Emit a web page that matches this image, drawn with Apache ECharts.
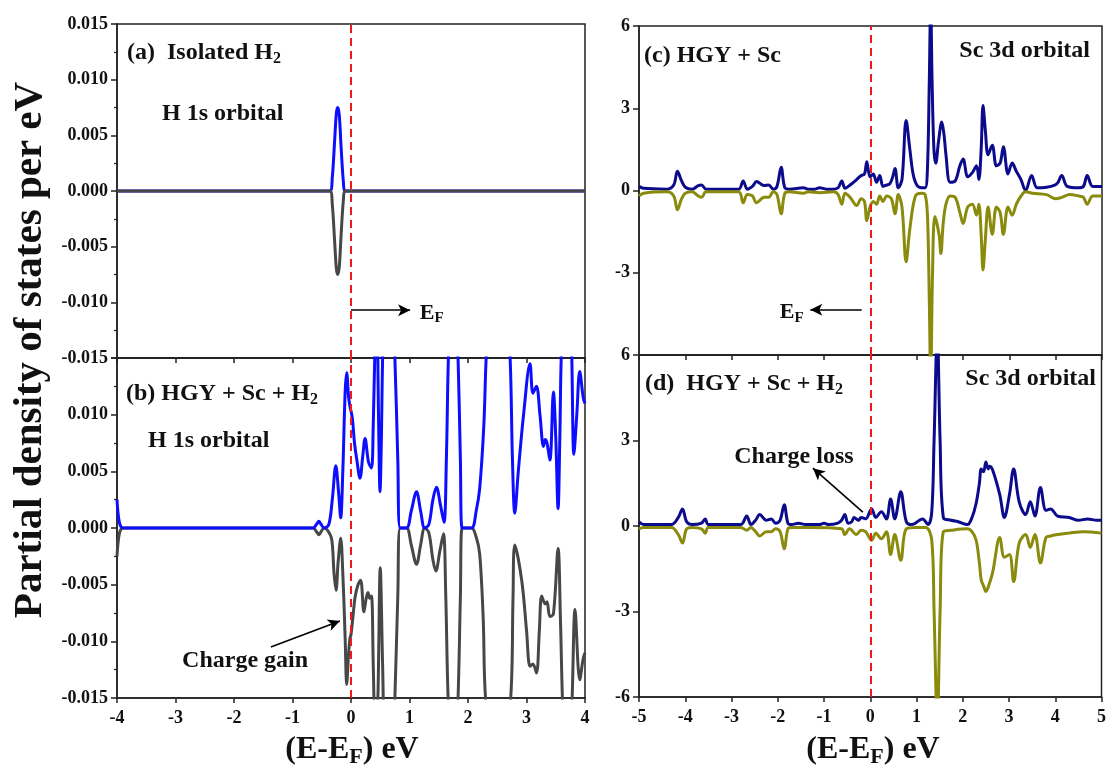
<!DOCTYPE html>
<html><head><meta charset="utf-8">
<script src="https://cdn.jsdelivr.net/npm/echarts@6/dist/echarts.min.js"></script>
<style>html,body{margin:0;padding:0;background:#fff}#c{width:1109px;height:776px}</style>
</head><body><div id="c"></div>
<script>
// ---------------- DATA ----------------
// Panel (a): isolated H2, H 1s orbital
const aX   = [-4, -0.36, -0.32, -0.28, -0.25, -0.227, -0.20, -0.17, -0.13, -0.10, 4];
const aUp  = [0, 0, 0.0012, 0.0045, 0.0070, 0.0075, 0.0068, 0.0040, 0.0008, 0, 0];
const aDn  = [0, 0, -0.0012, -0.0045, -0.0070, -0.0075, -0.0068, -0.0040, -0.0008, 0, 0];

// Panel (b): HGY + Sc + H2, H 1s orbital
const bUpX = [-4,-3.97,-3.93,-3.85,-0.65,-0.58,-0.55,-0.52,-0.46,-0.38,-0.32,-0.26,-0.21,-0.176,-0.14,-0.10,-0.074,-0.04,-0.02,0.02,0.06,0.097,0.154,0.20,0.24,0.30,0.35,0.38,0.41,0.44,0.47,0.496,0.52,0.55,0.60,0.70,0.75,0.80,0.84,0.95,1.03,1.12,1.19,1.26,1.33,1.40,1.46,1.53,1.59,1.63,1.67,1.75,1.80,1.83,1.87,1.90,2.06,2.14,2.20,2.27,2.32,2.45,2.65,2.72,2.76,2.80,2.86,2.95,3.06,3.11,3.17,3.23,3.29,3.32,3.35,3.40,3.46,3.50,3.54,3.57,3.60,3.70,3.77,3.81,3.86,3.91,3.97,4.0];
const bUp  = [0.0025,0.0008,0.0001,0,0,0.0004,0.0006,0.0004,0,0.0003,0.0025,0.0055,0.003,0.0009,0.005,0.012,0.0137,0.0115,0.0108,0.0098,0.0075,0.0061,0.0044,0.0063,0.0079,0.0058,0.0053,0.009,0.016,0.02,0.01,0.0032,0.008,0.018,0.025,0.02,0.015,0.006,0,0,0.0015,0.0032,0.0015,0,0.0003,0.0025,0.0036,0.002,0.0005,0.006,0.016,0.025,0.018,0.015,0.006,0,0,0.0015,0.0035,0.009,0.016,0.025,0.02,0.015,0.006,0.0013,0.005,0.010,0.0145,0.0119,0.0125,0.010,0.0072,0.0078,0.0075,0.006,0.012,0.008,0.0017,0.008,0.016,0.025,0.016,0.0065,0.010,0.0138,0.0115,0.011];
const bDnX = [-4,-3.97,-3.93,-3.85,-0.65,-0.58,-0.55,-0.52,-0.46,-0.40,-0.33,-0.29,-0.256,-0.22,-0.176,-0.14,-0.10,-0.074,-0.04,-0.017,0.0,0.03,0.07,0.12,0.165,0.22,0.26,0.29,0.32,0.35,0.38,0.42,0.46,0.50,0.54,0.58,0.68,0.75,0.80,0.84,0.95,1.03,1.12,1.19,1.26,1.33,1.40,1.45,1.52,1.58,1.62,1.66,1.75,1.83,1.87,1.90,2.06,2.14,2.20,2.26,2.30,2.50,2.73,2.77,2.80,2.92,3.00,3.06,3.11,3.17,3.22,3.26,3.32,3.35,3.40,3.46,3.54,3.58,3.62,3.70,3.78,3.83,3.91,3.97,4.0];
const bDn  = [-0.0025,-0.0008,-0.0001,0,0,-0.0004,-0.0006,-0.0004,0,-0.0002,-0.001,-0.004,-0.0055,-0.003,-0.0009,-0.004,-0.0097,-0.0138,-0.011,-0.0097,-0.0094,-0.008,-0.0061,-0.005,-0.0046,-0.0074,-0.0062,-0.0057,-0.0062,-0.006,-0.012,-0.02,-0.015,-0.0035,-0.012,-0.02,-0.025,-0.015,-0.006,0,0,-0.0015,-0.0032,-0.0015,0,-0.0004,-0.0028,-0.0038,-0.002,-0.0005,-0.006,-0.015,-0.025,-0.015,-0.006,0,0,-0.0008,-0.0023,-0.008,-0.015,-0.025,-0.015,-0.006,-0.0015,-0.0047,-0.009,-0.0122,-0.012,-0.0128,-0.009,-0.006,-0.0067,-0.0065,-0.0078,-0.0076,-0.0018,-0.008,-0.016,-0.025,-0.015,-0.0072,-0.0134,-0.0115,-0.011];

// Panel (c): HGY + Sc, Sc 3d orbital
const cUpX = [-5,-4.9,-4.4,-4.25,-4.17,-4.08,-4.0,-3.85,-3.72,-3.65,-3.55,-2.85,-2.75,-2.66,-2.55,-2.46,-2.3,-2.2,-2.1,-2.02,-1.93,-1.85,-1.75,-1.45,-1.35,-1.2,-1.1,-0.95,-0.8,-0.7,-0.62,-0.55,-0.44,-0.3,-0.2,-0.13,-0.08,-0.01,0.06,0.13,0.2,0.27,0.35,0.42,0.48,0.53,0.6,0.68,0.77,0.85,0.92,1.0,1.1,1.18,1.23,1.27,1.30,1.33,1.37,1.41,1.47,1.54,1.59,1.63,1.72,1.83,1.93,2.0,2.1,2.2,2.29,2.34,2.39,2.43,2.48,2.54,2.63,2.72,2.8,2.87,2.97,3.06,3.15,3.25,3.35,3.48,3.6,3.8,3.98,4.05,4.13,4.25,4.5,4.6,4.68,4.8,5.0];
const cUp  = [0.15,0.08,0.05,0.2,0.7,0.35,0.12,0.05,0.18,0.2,0.05,0.05,0.35,0.05,0.15,0.33,0.18,0.2,0.05,0.15,0.85,0.1,0.05,0.1,0.05,0.05,0.1,0.05,0.05,0.1,0.35,0.08,0.2,0.4,0.55,0.6,1.05,0.5,0.6,0.3,0.55,0.15,0.2,0.25,0.5,0.8,0.1,0.4,2.55,1.5,0.6,0.2,0.1,0.1,0.8,4.0,6.8,4.0,1.5,1.0,1.8,2.5,2.0,1.3,0.3,0.35,0.9,1.15,0.5,0.65,0.9,0.4,1.5,3.1,2.2,1.3,1.65,0.9,1.0,1.6,0.6,1.0,0.7,0.4,0.0,0.55,0.1,0.12,0.2,0.3,0.55,0.15,0.1,0.15,0.55,0.15,0.15];
const cDnX = [-5,-4.9,-4.4,-4.25,-4.17,-4.08,-4.0,-3.85,-3.72,-3.65,-3.55,-2.85,-2.75,-2.66,-2.55,-2.46,-2.3,-2.2,-2.1,-2.02,-1.93,-1.85,-1.75,-1.45,-1.35,-1.1,-0.8,-0.7,-0.62,-0.55,-0.44,-0.3,-0.2,-0.13,-0.08,-0.01,0.06,0.13,0.2,0.27,0.35,0.45,0.53,0.6,0.68,0.77,0.85,0.97,1.1,1.18,1.23,1.27,1.30,1.34,1.39,1.48,1.52,1.57,1.63,1.72,1.83,1.93,2.0,2.1,2.2,2.29,2.34,2.39,2.43,2.48,2.54,2.63,2.72,2.8,2.87,2.97,3.06,3.15,3.25,3.35,3.5,3.8,4.0,4.13,4.3,4.5,4.6,4.68,4.8,5.0];
const cDn  = [-0.2,-0.1,-0.05,-0.2,-0.7,-0.3,-0.1,-0.05,-0.2,-0.25,-0.05,-0.05,-0.45,-0.15,-0.2,-0.45,-0.25,-0.25,-0.05,-0.15,-0.85,-0.1,-0.05,-0.1,-0.05,-0.08,-0.05,-0.15,-0.5,-0.1,-0.25,-0.55,-0.3,-0.4,-1.1,-0.6,-0.4,-0.5,-0.2,-0.4,-0.2,-0.3,-0.85,-0.15,-0.6,-2.6,-1.4,-0.2,-0.1,-0.15,-0.9,-4.0,-7.0,-3.0,-0.95,-1.6,-2.3,-1.2,-0.5,-0.2,-0.25,-0.8,-1.2,-0.6,-0.5,-0.9,-0.5,-1.6,-2.9,-1.8,-0.6,-1.6,-0.6,-0.8,-1.6,-0.6,-0.9,-0.5,-0.2,-0.05,-0.1,-0.15,-0.3,-0.25,-0.15,-0.2,-0.25,-0.5,-0.2,-0.2];

// Panel (d): HGY + Sc + H2, Sc 3d orbital
const dUpX = [-5,-4.9,-4.3,-4.15,-4.06,-3.97,-3.85,-3.65,-3.57,-3.5,-2.8,-2.67,-2.58,-2.48,-2.39,-2.25,-2.14,-2.05,-1.95,-1.86,-1.78,-1.7,-1.55,-1.4,-1.1,-1.0,-0.9,-0.7,-0.62,-0.55,-0.48,-0.4,-0.35,-0.25,-0.2,-0.1,0.03,0.12,0.24,0.35,0.44,0.53,0.66,0.78,0.9,1.13,1.25,1.33,1.38,1.45,1.51,1.58,1.75,1.9,2.1,2.2,2.29,2.36,2.4,2.45,2.5,2.55,2.58,2.65,2.8,2.9,3.01,3.1,3.22,3.36,3.46,3.56,3.68,3.8,3.9,4.05,4.3,4.5,4.7,4.9,5.0];
const dUp  = [0.15,0.05,0.05,0.3,0.6,0.15,0.05,0.1,0.25,0.05,0.05,0.35,0.05,0.2,0.4,0.2,0.25,0.1,0.2,0.75,0.1,0.05,0.1,0.05,0.05,0.1,0.05,0.1,0.2,0.4,0.1,0.15,0.3,0.2,0.3,0.25,0.6,0.3,0.5,0.25,0.95,0.25,1.2,0.15,0.05,0.25,0.05,0.5,3.0,6.8,3.0,0.3,0.2,0.15,0.05,0.3,0.8,1.5,2.0,1.9,2.25,2.0,2.1,1.95,1.1,0.3,1.1,2.0,0.85,0.4,0.85,0.35,1.35,0.55,0.6,0.35,0.3,0.2,0.25,0.2,0.2];
const dDnX = [-5,-4.9,-4.3,-4.15,-4.06,-3.97,-3.85,-3.65,-3.57,-3.5,-2.8,-2.67,-2.58,-2.48,-2.39,-2.25,-2.14,-2.05,-1.95,-1.86,-1.78,-1.7,-1.3,-0.62,-0.55,-0.45,-0.3,-0.2,-0.1,0.03,0.12,0.24,0.35,0.44,0.53,0.66,0.78,1.0,1.2,1.33,1.38,1.45,1.51,1.58,1.75,2.1,2.2,2.29,2.36,2.4,2.45,2.5,2.58,2.65,2.8,2.9,3.01,3.1,3.22,3.36,3.46,3.56,3.68,3.8,3.9,4.05,4.3,4.6,5.0];
const dDn  = [-0.1,-0.05,-0.05,-0.3,-0.6,-0.1,-0.05,-0.1,-0.25,-0.05,-0.05,-0.15,-0.05,-0.2,-0.35,-0.2,-0.2,-0.1,-0.2,-0.8,-0.1,-0.05,-0.05,-0.1,-0.3,-0.1,-0.3,-0.15,-0.2,-0.5,-0.25,-0.45,-0.2,-1.0,-0.3,-1.2,-0.1,-0.05,-0.05,-0.5,-3.0,-7.0,-3.0,-0.2,-0.15,-0.1,-0.2,-0.5,-1.3,-1.9,-2.1,-2.3,-2.0,-1.6,-0.4,-1.1,-1.0,-1.95,-0.6,-0.3,-0.75,-0.3,-1.3,-0.4,-0.35,-0.3,-0.25,-0.2,-0.25];

// Axis tick labels
const leftXTicks  = [-4,-3,-2,-1,0,1,2,3,4];
const rightXTicks = [-5,-4,-3,-2,-1,0,1,2,3,4,5];
const leftYTicks  = [-0.015,-0.010,-0.005,0.000,0.005,0.010,0.015];
const rightYTicks = [-6,-3,0,3,6];

// Annotations (in data units)
const arrowA = [[0, -0.0107], [1.01, -0.0107]];
const arrowC = [[-0.19, -4.35], [-1.30, -4.35]];
const arrowGain = [[-1.37, -0.0105], [-0.19, -0.0082]];
const arrowLoss = [[-0.16, 0.49], [-1.24, 2.03]];
const labelEfA = [1.38, -0.0110];
const labelEfC = [-1.70, -4.46];
const labelGain = [-1.81, -0.01175];
const labelLoss = [-1.65, 2.42];

// ---------------- CHART ----------------
const FONT = '"Liberation Serif","Times New Roman",serif';
const INK = '#111';
const pairs = (xs, ys) => xs.map((x, i) => [x, ys[i]]);

const grids = [
  {left: 117, top: 24,  width: 468, height: 334},
  {left: 117, top: 358, width: 468, height: 340},
  {left: 639, top: 26,  width: 463, height: 329},
  {left: 639, top: 355, width: 463, height: 342}
].map(g => Object.assign(g, {show: true, borderColor: '#222', borderWidth: 1.5, backgroundColor: 'transparent', containLabel: false}));

function xAx(gi, ticks, showLabel) {
  return {
    gridIndex: gi, type: 'value', min: ticks[0], max: ticks[ticks.length-1], interval: 1,
    axisLine: {show: true, onZero: false, lineStyle: {color: '#222', width: 1.5}},
    axisTick: {show: true, inside: false, length: 5, lineStyle: {color: '#222', width: 1.5}},
    splitLine: {show: false},
    axisLabel: {show: showLabel, margin: 11, color: INK, fontFamily: FONT, fontWeight: 'bold', fontSize: 18,
      formatter: v => String(Math.round(v))}
  };
}
function yAx(gi, ticks, fmt, minor) {
  return {
    gridIndex: gi, type: 'value', min: ticks[0], max: ticks[ticks.length-1], interval: ticks[1]-ticks[0],
    axisLine: {show: true, onZero: false, lineStyle: {color: '#222', width: 1.5}},
    axisTick: {show: true, inside: false, length: 6, lineStyle: {color: '#222', width: 1.5}},
    minorTick: {show: minor, splitNumber: 2, length: 3, lineStyle: {color: '#222', width: 1.2}},
    splitLine: {show: false}, minorSplitLine: {show: false},
    axisLabel: {margin: 9, color: INK, fontFamily: FONT, fontWeight: 'bold', fontSize: 18, formatter: fmt}
  };
}
const fmtLeftA = v => { const s = v.toFixed(3); return s === '-0.000' ? '0.000' : s; };
const fmtLeftB = v => v > 0.0149 ? '' : fmtLeftA(v);
const fmtRightC = v => v < -5.9 ? '' : String(Math.round(v));
const fmtRightD = v => String(Math.round(v));

const redLine = {silent: true, symbol: ['none','none'], label: {show: false},
  lineStyle: {color: '#f01818', type: [8,5], width: 2}, data: [{xAxis: 0}]};
function arrow(seg) {
  return {silent: true, symbol: ['none','arrow'], symbolSize: [9, 12], label: {show: false},
    lineStyle: {color: '#000', type: 'solid', width: 1.6},
    data: [[{coord: seg[0]}, {coord: seg[1]}]]};
}
const subRich = {s: {fontSize: 15, fontWeight: 'bold', fontFamily: FONT, color: INK, padding: [10,0,0,0]}};
function textPoint(pos, text, size) {
  return {silent: true, data: [{coord: pos, symbol: 'circle', symbolSize: 0,
    label: {show: true, position: 'inside', formatter: text, color: INK, fontFamily: FONT,
      fontWeight: 'bold', fontSize: size, rich: subRich}}]};
}

function lineSeries(name, gi, data, color, extra) {
  return Object.assign({
    name, type: 'line', xAxisIndex: gi, yAxisIndex: gi, data, showSymbol: false, symbol: 'none',
    smooth: 0.35, clip: true, lineStyle: {color, width: 3}, itemStyle: {color}, z: 3
  }, extra || {});
}

const BLUE = '#0d0dff', GRAY = '#474747', NAVY = '#0b0b8c', OLIVE = '#8a8a0c';

const series = [
  lineSeries('a-up', 0, pairs(aX, aUp), BLUE, {markLine: redLine}),
  lineSeries('a-dn', 0, pairs(aX, aDn), GRAY, {markLine: arrow(arrowA), markPoint: textPoint(labelEfA, 'E{s|F}', 22)}),
  lineSeries('b-dn', 1, pairs(bDnX, bDn), GRAY, {markLine: arrow(arrowGain), markPoint: textPoint(labelGain, 'Charge gain', 24)}),
  lineSeries('b-up', 1, pairs(bUpX, bUp), BLUE, {markLine: redLine}),
  lineSeries('c-up', 2, pairs(cUpX, cUp), NAVY, {markLine: redLine}),
  lineSeries('c-dn', 2, pairs(cDnX, cDn), OLIVE, {markLine: arrow(arrowC), markPoint: textPoint(labelEfC, 'E{s|F}', 22)}),
  lineSeries('d-up', 3, pairs(dUpX, dUp), NAVY, {markLine: redLine}),
  lineSeries('d-dn', 3, pairs(dDnX, dDn), OLIVE, {markLine: arrow(arrowLoss), markPoint: textPoint(labelLoss, 'Charge loss', 24)})
];

function gtext(x, y, text, size, align, rotation) {
  return {type: 'text', x, y, rotation: rotation || 0, z: 50,
    style: {text, fill: INK, fontFamily: FONT, fontWeight: 'bold', fontSize: size,
      align: align || 'left', verticalAlign: 'middle',
      rich: {s: {fontSize: Math.round(size*0.68), fontWeight: 'bold', fontFamily: FONT, fill: INK, padding: [Math.round(size*0.45),0,0,0]}}}};
}

const graphic = [
  gtext(127, 53, '(a)  Isolated H{s|2}', 24),
  gtext(162, 114, 'H 1s orbital', 24),
  gtext(126, 394, '(b) HGY + Sc + H{s|2}', 24),
  gtext(148, 441, 'H 1s orbital', 24),
  gtext(644, 56, '(c) HGY + Sc', 24),
  gtext(1090, 51, 'Sc 3d orbital', 24, 'right'),
  gtext(645, 384, '(d)  HGY + Sc + H{s|2}', 24),
  gtext(1096, 379, 'Sc 3d orbital', 24, 'right'),
  gtext(30, 350, 'Partial density of states per eV', 41, 'center', Math.PI/2),
  gtext(352, 750, '(E-E{s|F}) eV', 32, 'center'),
  gtext(873, 750, '(E-E{s|F}) eV', 32, 'center')
];

const chart = echarts.init(document.getElementById('c'), null, {renderer: 'canvas'});
chart.setOption({
  animation: false,
  backgroundColor: '#fff',
  grid: grids,
  xAxis: [xAx(0, leftXTicks, false), xAx(1, leftXTicks, true), xAx(2, rightXTicks, false), xAx(3, rightXTicks, true)],
  yAxis: [yAx(0, leftYTicks, fmtLeftA, true), yAx(1, leftYTicks, fmtLeftB, true), yAx(2, rightYTicks, fmtRightC, false), yAx(3, rightYTicks, fmtRightD, false)],
  series,
  graphic
});
</script>
</body></html>
